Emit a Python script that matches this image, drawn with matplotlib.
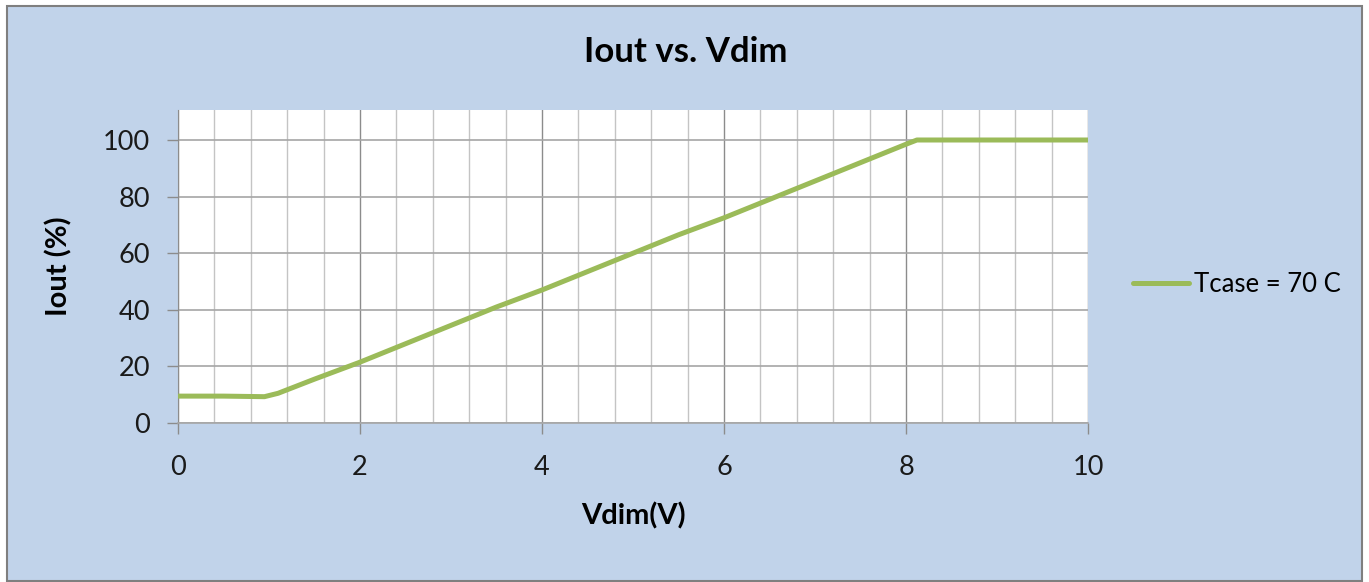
import matplotlib.pyplot as plt
from matplotlib.patches import Rectangle
from matplotlib.ticker import MultipleLocator

# Iout vs Vdim readings
vdim = [0, 0.5, 0.95, 1.1, 1.5, 2.0, 2.5, 3.0, 3.5, 4.0, 4.5, 5.0, 5.5, 6.0, 6.5, 7.0, 7.5, 8.0, 8.12, 9.0, 10.0]
iout = [9.5, 9.5, 9.3, 10.5, 15.5, 21.5, 28.0, 34.5, 41.0, 47.0, 53.5, 60.0, 66.5, 72.5, 79.0, 85.5, 92.0, 98.5, 100, 100, 100]
series_label = 'Tcase = 70 C'

plt.rcParams['font.family'] = ['Lato', 'DejaVu Sans']

fig = plt.figure(figsize=(13.69, 5.82), dpi=100)
fig.patch.set_facecolor('white')
fig.patches.append(Rectangle((7 / 1369, 1 - 581 / 582), 1355 / 1369, 575 / 582,
                             transform=fig.transFigure, facecolor='#c1d3ea',
                             edgecolor='#7f7f7f', linewidth=1.5, zorder=-10))

ax = fig.add_axes([178 / 1369, 159 / 582, 910 / 1369, 313 / 582])
ax.set_zorder(5)
ax.set_facecolor('white')

ax.plot(vdim, iout, color='#9bbb59', linewidth=3.6, label=series_label,
        solid_capstyle='round', zorder=3)

ax.set_xlim(0, 10)
ax.set_ylim(0, 110.6)
ax.xaxis.set_major_locator(MultipleLocator(2))
ax.xaxis.set_minor_locator(MultipleLocator(0.4))
ax.yaxis.set_major_locator(MultipleLocator(20))

ax.grid(True, which='major', axis='x', color='#8c8c8c', linewidth=1)
ax.grid(True, which='minor', axis='x', color='#c4c4c4', linewidth=1)
ax.grid(True, which='major', axis='y', color='#a6a6a6', linewidth=1.2)

for side in ['top', 'right']:
    ax.spines[side].set_visible(False)
ax.spines['left'].set_color('#8c8c8c')
ax.spines['bottom'].set_color('#a6a6a6')
ax.spines['bottom'].set_linewidth(1.2)
ax.tick_params(axis='both', which='major', direction='out', length=8, width=1,
               color='#8c8c8c', labelsize=19.5, labelcolor='#1a1a1a')
ax.tick_params(axis='x', which='minor', length=0)
ax.tick_params(axis='x', pad=15)
ax.tick_params(axis='y', pad=12)

fig.suptitle('Iout vs. Vdim', x=686 / 1369, y=1 - 52 / 582, va='center',
             fontsize=25, fontweight='bold')
ax.set_xlabel('Vdim(V)', fontsize=21, fontweight='bold', labelpad=16)
ax.set_ylabel('Iout (%)', fontsize=21, fontweight='bold', labelpad=22)

ax.legend(loc='center left', bbox_to_anchor=(1.049, 0.443), frameon=False,
          fontsize=18.5, handlelength=2.2, handletextpad=0.2,
          borderaxespad=0, borderpad=0)

plt.savefig('out.png', dpi=100, facecolor=fig.get_facecolor())
